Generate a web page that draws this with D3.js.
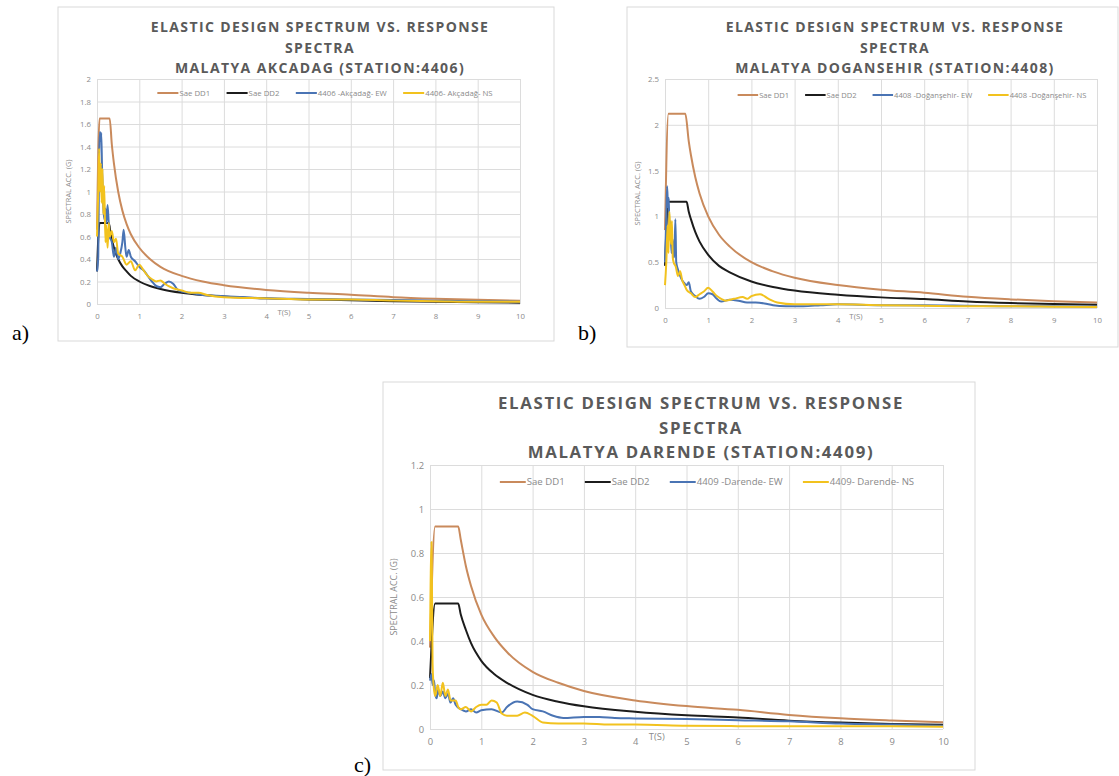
<!DOCTYPE html>
<html>
<head>
<meta charset="utf-8">
<script src="https://cdn.jsdelivr.net/npm/d3@7"></script>
<style>
  body { margin: 0; background: #fff; }
  svg text { font-family: "Open Sans", "Liberation Sans", sans-serif; }
</style>
</head>
<body>
<svg id="fig" width="1119" height="776"></svg>
<script>
///////////////////////////////////////////////////////////////////////////
///////////////////////////////// Data ////////////////////////////////////
///////////////////////////////////////////////////////////////////////////
// [T (s), spectral acceleration (g)]

var titleLines = ["ELASTIC DESIGN SPECTRUM VS. RESPONSE", "SPECTRA"]
var stations = ["MALATYA AKCADAG (STATION:4406)", "MALATYA DOGANSEHIR (STATION:4408)", "MALATYA DARENDE (STATION:4409)"]
var panelTags = ["a)", "b)", "c)"]
var xTicks = [0, 1, 2, 3, 4, 5, 6, 7, 8, 9, 10]
var yTicksA = [0, 0.2, 0.4, 0.6, 0.8, 1, 1.2, 1.4, 1.6, 1.8, 2]
var yTicksB = [0, 0.5, 1, 1.5, 2, 2.5]
var yTicksC = [0, 0.2, 0.4, 0.6, 0.8, 1, 1.2]
var namesA = ["Sae DD1", "Sae DD2", "4406 -Akçadağ- EW", "4406- Akçadağ- NS"]
var namesB = ["Sae DD1", "Sae DD2", "4408 -Doğanşehir- EW", "4408 -Doğanşehir- NS"]
var namesC = ["Sae DD1", "Sae DD2", "4409 -Darende- EW", "4409- Darende- NS"]

// (a) Akcadag
var aDD1 = [[0,0.66],[0.06,1.65],[0.30,1.65],[0.35,1.42],[0.4,1.25],[0.5,1.0],[0.6,0.83],[0.7,0.71],[0.8,0.62],[1,0.5],[1.25,0.4],[1.5,0.33],[2,0.25],[2.5,0.2],[3,0.167],[4,0.125],[5,0.1],[6,0.083],[7,0.061],[8,0.047],[9,0.037],[10,0.03]]
var aDD2 = [[0,0.29],[0.06,0.72],[0.28,0.72],[0.32,0.63],[0.4,0.5],[0.5,0.4],[0.6,0.335],[0.7,0.29],[0.8,0.25],[1,0.2],[1.25,0.16],[1.5,0.134],[2,0.1],[2.5,0.08],[3,0.067],[4,0.05],[5,0.04],[6,0.034],[7,0.025],[8,0.019],[9,0.015],[10,0.012]]
var aEW = [[0,0.29],[0.03,0.42],[0.05,1.3],[0.07,1.53],[0.09,1.45],[0.1,1.52],[0.12,1.2],[0.14,0.95],[0.16,0.8],[0.18,0.75],[0.2,0.85],[0.22,0.72],[0.25,0.88],[0.28,0.7],[0.3,0.6],[0.35,0.55],[0.4,0.42],[0.45,0.5],[0.5,0.4],[0.55,0.45],[0.6,0.55],[0.63,0.66],[0.67,0.5],[0.7,0.42],[0.75,0.48],[0.8,0.42],[0.9,0.38],[1,0.33],[1.1,0.3],[1.2,0.25],[1.3,0.2],[1.4,0.16],[1.5,0.15],[1.6,0.18],[1.7,0.2],[1.8,0.18],[1.9,0.13],[2,0.11],[2.2,0.1],[2.5,0.08],[3,0.07],[3.5,0.06],[4,0.05],[5,0.045],[6,0.04],[7,0.035],[8,0.03],[9,0.025],[10,0.02]]
var aNS = [[0,0.6],[0.03,1.0],[0.05,1.38],[0.07,1.0],[0.09,1.25],[0.11,0.9],[0.13,1.2],[0.15,0.8],[0.17,1.05],[0.2,0.55],[0.22,0.7],[0.25,0.5],[0.28,0.72],[0.3,0.6],[0.35,0.65],[0.4,0.55],[0.45,0.58],[0.5,0.45],[0.6,0.42],[0.7,0.35],[0.8,0.38],[0.9,0.3],[1,0.35],[1.1,0.3],[1.2,0.25],[1.3,0.22],[1.4,0.2],[1.5,0.21],[1.6,0.18],[1.8,0.14],[2,0.12],[2.2,0.1],[2.4,0.1],[2.6,0.08],[3,0.06],[4,0.05],[5,0.04],[6,0.04],[7,0.03],[8,0.025],[9,0.02],[10,0.02]]

// (b) Dogansehir
var bDD1 = [[0,0.85],[0.08,2.12],[0.47,2.12],[0.55,1.82],[0.6,1.67],[0.7,1.43],[0.8,1.25],[1,1.0],[1.25,0.8],[1.5,0.67],[2,0.5],[2.5,0.4],[3,0.33],[4,0.25],[5,0.2],[6,0.167],[7,0.122],[8,0.094],[9,0.074],[10,0.06]]
var bDD2 = [[0,0.46],[0.08,1.16],[0.5,1.16],[0.55,1.05],[0.6,0.97],[0.7,0.83],[0.8,0.725],[1,0.58],[1.25,0.46],[1.5,0.39],[2,0.29],[2.5,0.23],[3,0.19],[4,0.145],[5,0.116],[6,0.097],[7,0.071],[8,0.054],[9,0.043],[10,0.035]]
var bEW = [[0,0.5],[0.03,1.0],[0.05,1.33],[0.07,1.1],[0.09,1.2],[0.1,0.8],[0.12,0.95],[0.15,0.6],[0.18,0.75],[0.2,0.55],[0.22,0.6],[0.24,0.97],[0.26,0.5],[0.3,0.42],[0.35,0.35],[0.4,0.3],[0.45,0.27],[0.5,0.25],[0.55,0.28],[0.6,0.18],[0.7,0.13],[0.8,0.1],[0.9,0.12],[1,0.16],[1.1,0.15],[1.2,0.1],[1.3,0.07],[1.5,0.09],[1.7,0.08],[1.9,0.06],[2.1,0.06],[2.3,0.05],[2.5,0.03],[2.8,0.02],[3.2,0.02],[3.6,0.03],[4,0.04],[5,0.03],[6,0.03],[7,0.025],[8,0.02],[9,0.02],[10,0.015]]
var bNS = [[0,0.25],[0.03,0.5],[0.06,0.9],[0.08,0.6],[0.1,1.05],[0.12,0.85],[0.14,0.7],[0.16,0.95],[0.18,0.55],[0.2,0.5],[0.25,0.45],[0.3,0.35],[0.35,0.4],[0.4,0.3],[0.45,0.25],[0.5,0.2],[0.6,0.16],[0.7,0.12],[0.8,0.15],[0.9,0.18],[1,0.22],[1.1,0.18],[1.2,0.13],[1.3,0.1],[1.4,0.08],[1.6,0.1],[1.8,0.12],[1.9,0.1],[2,0.13],[2.2,0.15],[2.4,0.1],[2.6,0.06],[3,0.04],[3.5,0.04],[4,0.04],[5,0.03],[6,0.025],[7,0.02],[8,0.02],[9,0.015],[10,0.01]]

// (c) Darende
var cDD1 = [[0,0.37],[0.1,0.92],[0.55,0.92],[0.6,0.86],[0.7,0.74],[0.8,0.65],[1,0.52],[1.25,0.42],[1.5,0.35],[2,0.26],[2.5,0.21],[3,0.173],[4,0.13],[5,0.104],[6,0.087],[7,0.064],[8,0.049],[9,0.039],[10,0.031]]
var cDD2 = [[0,0.23],[0.1,0.57],[0.55,0.57],[0.6,0.52],[0.7,0.45],[0.8,0.39],[1,0.31],[1.25,0.25],[1.5,0.21],[2,0.155],[2.5,0.124],[3,0.103],[4,0.078],[5,0.062],[6,0.052],[7,0.038],[8,0.029],[9,0.023],[10,0.019]]
var cEW = [[0,0.22],[0.03,0.25],[0.05,0.2],[0.08,0.22],[0.1,0.16],[0.13,0.14],[0.16,0.18],[0.2,0.15],[0.25,0.17],[0.3,0.14],[0.35,0.16],[0.4,0.12],[0.45,0.14],[0.5,0.11],[0.6,0.09],[0.7,0.08],[0.8,0.09],[0.9,0.075],[1,0.085],[1.2,0.09],[1.4,0.075],[1.5,0.1],[1.7,0.125],[1.9,0.11],[2,0.09],[2.2,0.08],[2.4,0.06],[2.6,0.05],[3,0.055],[3.3,0.055],[3.6,0.05],[4,0.048],[5,0.045],[6,0.04],[7,0.035],[8,0.025],[9,0.02],[10,0.015]]
var cNS = [[0,0.4],[0.03,0.85],[0.05,0.3],[0.07,0.2],[0.1,0.15],[0.15,0.2],[0.2,0.15],[0.25,0.21],[0.3,0.15],[0.35,0.18],[0.4,0.13],[0.5,0.13],[0.55,0.1],[0.6,0.09],[0.7,0.1],[0.8,0.08],[0.9,0.1],[1,0.11],[1.1,0.11],[1.2,0.13],[1.3,0.12],[1.4,0.07],[1.5,0.06],[1.7,0.06],[1.85,0.075],[2,0.06],[2.2,0.03],[2.5,0.025],[3,0.025],[3.5,0.02],[4,0.02],[5,0.015],[6,0.013],[7,0.012],[8,0.012],[9,0.012],[10,0.01]]

///////////////////////////////////////////////////////////////////////////
//////////////////////////////// Layout ///////////////////////////////////
///////////////////////////////////////////////////////////////////////////

var colors = ["#c98a5c", "#1c1c1c", "#4a74b4", "#f2c21e"]

var panels = [
  { box: [58, 7, 496, 334], plot: {left: 97, right: 520, top: 79, bottom: 304},
    yTicks: yTicksA, series: [aDD1, aDD2, aEW, aNS], names: namesA, station: stations[0],
    titleX: 320, titleY: [27, 48, 68], titleSize: 14, legendX: 325, legendY: 93,
    font: 7.8, legFont: 7.8, yTitleOff: 29, tag: [12, 340] },
  { box: [627, 7, 491, 340], plot: {left: 665, right: 1097, top: 79, bottom: 308},
    yTicks: yTicksB, series: [bDD1, bDD2, bEW, bNS], names: namesB, station: stations[1],
    titleX: 895, titleY: [27, 48, 68], titleSize: 14, legendX: 912, legendY: 95,
    font: 7.8, legFont: 7.6, yTitleOff: 28, tag: [578, 340] },
  { box: [383, 382, 592, 388], plot: {left: 430, right: 943, top: 465, bottom: 729},
    yTicks: yTicksC, series: [cDD1, cDD2, cEW, cNS], names: namesC, station: stations[2],
    titleX: 701, titleY: [403, 428, 452], titleSize: 16.8, legendX: 707, legendY: 482,
    font: 9.4, legFont: 9.6, yTitleOff: 36, tag: [354, 772] }
]

var svg = d3.select("#fig")

panels.forEach(drawPanel)

///////////////////////////////////////////////////////////////////////////
/////////////////////////////// Draw panel ////////////////////////////////
///////////////////////////////////////////////////////////////////////////

function drawPanel(p, i) {
  var g = svg.append("g")
  var w = p.plot.right - p.plot.left
  var h = p.plot.bottom - p.plot.top

  g.append("rect")
    .attr("x", p.box[0]).attr("y", p.box[1])
    .attr("width", p.box[2]).attr("height", p.box[3])
    .attr("fill", "#fff").attr("stroke", "#d9d9d9")

  var x = d3.scaleLinear().domain([0, 10]).range([p.plot.left, p.plot.right])
  var y = d3.scaleLinear().domain([0, d3.max(p.yTicks)]).range([p.plot.bottom, p.plot.top])

  // gridlines + tick labels
  var yAxis = g.append("g")
    .attr("transform", "translate(" + p.plot.left + ",0)")
    .call(d3.axisLeft(y).tickValues(p.yTicks).tickFormat(String).tickSize(-w).tickPadding(6))
  var xAxis = g.append("g")
    .attr("transform", "translate(0," + p.plot.bottom + ")")
    .call(d3.axisBottom(x).tickValues(xTicks).tickFormat(String).tickSize(-h).tickPadding(9))

  ;[yAxis, xAxis].forEach(function (ax) {
    ax.select(".domain").remove()
    ax.selectAll("line").attr("stroke", "#dcdcdc")
    ax.selectAll("text").attr("fill", "#8a8a8a").style("font-size", p.font + "px")
  })

  // series
  var line = d3.line()
    .x(function (d) { return x(d[0]) })
    .y(function (d) { return y(d[1]) })
    .curve(d3.curveMonotoneX)

  p.series.forEach(function (s, k) {
    g.append("path")
      .datum(s)
      .attr("fill", "none")
      .attr("stroke", colors[k])
      .attr("stroke-width", 2)
      .attr("stroke-linejoin", "round")
      .attr("d", line)
  })

  // title
  var lines = titleLines.concat([p.station])
  g.selectAll(".title").data(lines).join("text")
    .attr("class", "title")
    .attr("x", p.titleX)
    .attr("y", function (d, j) { return p.titleY[j] })
    .attr("dy", "0.36em")
    .attr("text-anchor", "middle")
    .attr("fill", "#5a5a5a")
    .style("font-weight", 700)
    .style("font-size", p.titleSize + "px")
    .style("letter-spacing", "0.1em")
    .text(function (d) { return d })

  // axis titles
  g.append("text")
    .attr("transform", "translate(" + (p.plot.left - p.yTitleOff) + "," + (p.plot.top + h / 2) + ") rotate(-90)")
    .attr("text-anchor", "middle")
    .attr("dy", "0.35em")
    .attr("fill", "#8a8a8a")
    .style("font-size", (p.font * 0.95) + "px")
    .text("SPECTRAL ACC. (G)")

  g.append("text")
    .attr("x", x(4.42))
    .attr("y", p.plot.bottom + 8)
    .attr("dy", "0.35em")
    .attr("text-anchor", "middle")
    .attr("fill", "#8a8a8a")
    .style("font-size", p.font + "px")
    .text("T(S)")

  // legend
  var leg = g.append("g")
  var cx = 0
  var segLen = p.legFont * 2.7
  var gap = p.legFont * 2.1
  p.names.forEach(function (n, k) {
    var it = leg.append("g").attr("transform", "translate(" + cx + ",0)")
    it.append("line")
      .attr("x1", 0).attr("x2", segLen)
      .attr("stroke", colors[k]).attr("stroke-width", 2)
    var t = it.append("text")
      .attr("x", segLen + 1)
      .attr("dy", "0.35em")
      .attr("fill", "#8a8a8a")
      .style("font-size", p.legFont + "px")
      .text(n)
    cx += segLen + 1 + t.node().getComputedTextLength() + gap
  })
  var legW = cx - gap
  leg.attr("transform", "translate(" + (p.legendX - legW / 2) + "," + p.legendY + ")")

  // panel tag
  svg.append("text")
    .attr("x", p.tag[0]).attr("y", p.tag[1])
    .attr("fill", "#000")
    .style("font-family", "'Liberation Serif', 'Times New Roman', serif")
    .style("font-size", "22px")
    .text(panelTags[i])
}
</script>
</body>
</html>
